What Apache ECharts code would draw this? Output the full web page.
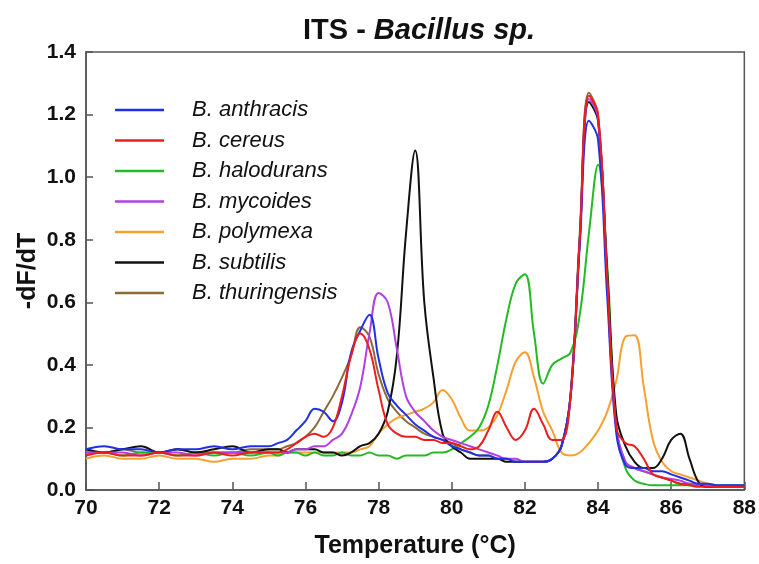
<!DOCTYPE html>
<html>
<head>
<meta charset="utf-8">
<script src="https://cdn.jsdelivr.net/npm/echarts@6/dist/echarts.min.js"></script>
<style>
  html, body { margin: 0; padding: 0; background: #fff; }
  #chart { width: 759px; height: 564px; }
</style>
</head>
<body>
<div id="chart"></div>
<script>
// temperature points (°C)
var temps = [
  70, 70.5, 71, 71.5, 72, 72.5, 73, 73.5, 74, 74.5, 75,
  75.25, 75.5, 75.75, 76,
  76.25, 76.5, 76.75, 77,
  77.25, 77.5, 77.75, 78,
  78.25, 78.5, 78.75, 79,
  79.25, 79.5, 79.75, 80,
  80.25, 80.5, 80.75, 81,
  81.25, 81.5, 81.75, 82,
  82.25, 82.5, 82.75, 83,
  83.25, 83.5, 83.75, 84,
  84.25, 84.5, 84.75, 85,
  85.25, 85.5, 85.75, 86,
  86.25, 86.5, 86.75, 87,
  87.25, 87.5, 87.75, 88
]

var anthracis = [
  0.13, 0.14, 0.13, 0.13, 0.12, 0.13, 0.13, 0.14, 0.13, 0.14, 0.14,
  0.15, 0.16, 0.19, 0.22,
  0.26, 0.25, 0.22, 0.28,
  0.44, 0.51, 0.56, 0.42,
  0.31, 0.27, 0.24, 0.21,
  0.19, 0.17, 0.16, 0.14,
  0.13, 0.12, 0.11, 0.11,
  0.10, 0.10, 0.09, 0.09,
  0.09, 0.09, 0.10, 0.14,
  0.30, 0.78, 1.18, 1.12,
  0.62, 0.18, 0.08, 0.07,
  0.07, 0.06, 0.06, 0.05,
  0.04, 0.03, 0.02, 0.02,
  0.015, 0.015, 0.015, 0.015
]
var cereus = [
  0.11, 0.12, 0.11, 0.11, 0.12, 0.11, 0.11, 0.12, 0.11, 0.12, 0.12,
  0.12, 0.13, 0.15, 0.17,
  0.18, 0.17, 0.20, 0.30,
  0.43, 0.50, 0.45, 0.32,
  0.21, 0.18, 0.17, 0.17,
  0.16, 0.16, 0.15, 0.15,
  0.14, 0.13, 0.14, 0.19,
  0.25, 0.20, 0.16, 0.19,
  0.26, 0.21, 0.16, 0.16,
  0.30, 0.80, 1.26, 1.20,
  0.68, 0.20, 0.15, 0.14,
  0.10, 0.05, 0.04, 0.03,
  0.02, 0.015, 0.01, 0.01,
  0.01, 0.01, 0.01, 0.01
]
var halodurans = [
  0.12, 0.12, 0.11, 0.12, 0.12, 0.11, 0.12, 0.11, 0.12, 0.11, 0.12,
  0.11, 0.12, 0.12, 0.11,
  0.12, 0.11, 0.11, 0.12,
  0.11, 0.11, 0.12, 0.11,
  0.11, 0.10, 0.11, 0.11,
  0.11, 0.12, 0.12, 0.13,
  0.15, 0.17, 0.20, 0.27,
  0.40, 0.55, 0.66, 0.69,
  0.50, 0.34, 0.40, 0.42,
  0.44, 0.56, 0.82, 1.04,
  0.72, 0.20, 0.07, 0.03,
  0.02, 0.015, 0.015, 0.015,
  0.015, 0.015, 0.015, 0.015,
  0.015, 0.015, 0.015, 0.015
]
var mycoides = [
  0.12, 0.12, 0.12, 0.11, 0.12, 0.12, 0.11, 0.12, 0.12, 0.12, 0.12,
  0.12, 0.12, 0.13, 0.13,
  0.14, 0.14, 0.16, 0.18,
  0.24, 0.33, 0.50, 0.63,
  0.60, 0.45, 0.30, 0.25,
  0.22, 0.19, 0.17, 0.16,
  0.15, 0.14, 0.13, 0.12,
  0.11, 0.10, 0.10, 0.09,
  0.09, 0.09, 0.10, 0.14,
  0.30, 0.80, 1.25, 1.19,
  0.66, 0.20, 0.09, 0.07,
  0.06, 0.05, 0.04, 0.035,
  0.03, 0.02, 0.02, 0.015,
  0.01, 0.01, 0.01, 0.01
]
var polymexa = [
  0.10, 0.11, 0.10, 0.10, 0.11, 0.10, 0.10, 0.09, 0.10, 0.10, 0.11,
  0.11, 0.12, 0.12, 0.12,
  0.12, 0.12, 0.12, 0.12,
  0.12, 0.13, 0.14, 0.18,
  0.21, 0.23, 0.24, 0.25,
  0.26, 0.28, 0.32, 0.29,
  0.23, 0.19, 0.19, 0.20,
  0.24, 0.32, 0.41, 0.44,
  0.36, 0.25, 0.19, 0.12,
  0.11, 0.12, 0.15, 0.19,
  0.25, 0.35, 0.49, 0.495,
  0.33, 0.16, 0.09, 0.06,
  0.05, 0.04, 0.03, 0.02,
  0.015, 0.01, 0.01, 0.01
]
var subtilis = [
  0.13, 0.12, 0.13, 0.14, 0.12, 0.13, 0.12, 0.13, 0.14, 0.12, 0.13,
  0.13, 0.12, 0.13, 0.13,
  0.13, 0.12, 0.12, 0.11,
  0.12, 0.14, 0.15, 0.18,
  0.25, 0.43, 0.82, 1.085,
  0.60, 0.36, 0.18, 0.14,
  0.12, 0.10, 0.10, 0.10,
  0.10, 0.09, 0.09, 0.09,
  0.09, 0.09, 0.10, 0.14,
  0.30, 0.80, 1.24, 1.18,
  0.70, 0.24, 0.14, 0.09,
  0.07, 0.07, 0.10, 0.16,
  0.18, 0.10, 0.025, 0.01,
  0.01, 0.01, 0.01, 0.01
]
var thuringensis = [
  0.12, 0.12, 0.13, 0.12, 0.12, 0.13, 0.12, 0.12, 0.12, 0.13, 0.13,
  0.13, 0.14, 0.15, 0.17,
  0.20, 0.25, 0.30, 0.36,
  0.43, 0.52, 0.49, 0.37,
  0.29, 0.25, 0.22, 0.20,
  0.18, 0.17, 0.16, 0.15,
  0.13, 0.12, 0.11, 0.11,
  0.10, 0.10, 0.09, 0.09,
  0.09, 0.09, 0.10, 0.14,
  0.31, 0.82, 1.27, 1.20,
  0.68, 0.20, 0.09, 0.07,
  0.06, 0.05, 0.04, 0.03,
  0.02, 0.02, 0.015, 0.01,
  0.01, 0.01, 0.01, 0.01
]

var legendNames = ['B. anthracis', 'B. cereus', 'B. halodurans', 'B. mycoides', 'B. polymexa', 'B. subtilis', 'B. thuringensis']

// draw order: last one ends up on top
var curves = [
  { name: 'B. thuringensis', values: thuringensis, color: '#8c6a3a' },
  { name: 'B. polymexa', values: polymexa, color: '#f5a030' },
  { name: 'B. halodurans', values: halodurans, color: '#22bb22' },
  { name: 'B. subtilis', values: subtilis, color: '#111111' },
  { name: 'B. mycoides', values: mycoides, color: '#b040e0' },
  { name: 'B. anthracis', values: anthracis, color: '#2030e8' },
  { name: 'B. cereus', values: cereus, color: '#ee1c1c' }
]

var chart = echarts.init(document.getElementById('chart'))

var seriesList = []
for (var i = 0; i < curves.length; i++) {
  var pts = []
  for (var j = 0; j < temps.length; j++) {
    pts.push([temps[j], curves[i].values[j]])
  }
  seriesList.push({
    name: curves[i].name,
    type: 'line',
    data: pts,
    smooth: 0.4,
    symbol: 'none',
    color: curves[i].color,
    lineStyle: { width: 2, color: curves[i].color }
  })
}

var axisFont = 'Liberation Sans'

chart.setOption({
  animation: false,
  backgroundColor: '#fff',
  title: {
    text: '{a|ITS - }{b|Bacillus sp.}',
    left: 414,
    top: 11,
    textAlign: 'center',
    textStyle: {
      rich: {
        a: { fontFamily: axisFont, fontSize: 29, fontWeight: 'bold', color: '#111' },
        b: { fontFamily: axisFont, fontSize: 29, fontWeight: 'bold', fontStyle: 'italic', color: '#111' }
      }
    }
  },
  legend: {
    data: legendNames,
    orient: 'vertical',
    left: 115,
    top: 99,
    padding: 0,
    icon: 'rect',
    itemWidth: 49,
    itemHeight: 2.5,
    itemGap: 8.5,
    textStyle: {
      fontFamily: axisFont,
      fontSize: 22,
      fontStyle: 'italic',
      color: '#111',
      lineHeight: 22,
      padding: [0, 0, 0, 23]
    }
  },
  grid: {
    left: 86,
    right: 14,
    top: 52,
    bottom: 74,
    show: true,
    borderColor: '#555',
    borderWidth: 1.5
  },
  xAxis: {
    type: 'value',
    min: 70,
    max: 88,
    interval: 2,
    name: 'Temperature (°C)',
    nameLocation: 'middle',
    nameGap: 44,
    nameMoveOverlap: false,
    nameTextStyle: { fontFamily: axisFont, fontSize: 25, fontWeight: 'bold', color: '#111' },
    axisLine: { lineStyle: { color: '#555', width: 1.5 } },
    axisTick: { inside: true, length: 8, lineStyle: { color: '#555', width: 1.5 } },
    axisLabel: { margin: 8, fontFamily: axisFont, fontSize: 21, fontWeight: 'bold', color: '#111' },
    splitLine: { show: false }
  },
  yAxis: {
    type: 'value',
    min: 0,
    max: 1.4,
    interval: 0.2,
    name: '-dF/dT',
    nameLocation: 'middle',
    nameGap: 45,
    nameMoveOverlap: false,
    nameTextStyle: { fontFamily: axisFont, fontSize: 25, fontWeight: 'bold', color: '#111' },
    axisLine: { show: true, lineStyle: { color: '#555', width: 1.5 } },
    axisTick: { show: true, inside: true, length: 7, lineStyle: { color: '#555', width: 1.5 } },
    axisLabel: {
      margin: 10,
      fontFamily: axisFont,
      fontSize: 21,
      fontWeight: 'bold',
      color: '#111',
      formatter: function (v) { return v.toFixed(1) }
    },
    splitLine: { show: false }
  },
  series: seriesList
})
</script>
</body>
</html>
